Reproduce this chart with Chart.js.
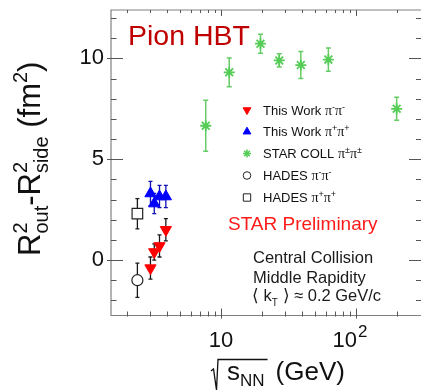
<!DOCTYPE html>
<html>
<head>
<meta charset="utf-8">
<script src="https://cdn.jsdelivr.net/npm/chart.js@4/dist/chart.umd.min.js"></script>
<style>
  html, body { margin: 0; padding: 0; background: #fff; }
  canvas { display: block; }
</style>
</head>
<body>
<canvas id="hbt" width="421" height="391"></canvas>
<script>
// Collision energies (GeV) and R_out^2 - R_side^2 (fm^2) with uncertainties
const thisWorkEnergy = [3.0, 3.2, 3.5, 3.9];
const thisWorkPiMinus = [-0.4, 0.4, 0.7, 1.5];
const thisWorkPiMinusErr = [0.55, 0.4, 0.55, 0.55];
const thisWorkPiPlus = [3.3, 2.8, 3.15, 3.15];
const thisWorkPiPlusErr = [0.6, 0.5, 0.55, 0.55];

const starEnergy = [7.7, 11.5, 19.6, 27, 39, 62.4, 200];
const starPiPi = [6.66, 9.31, 10.73, 9.9, 9.67, 9.94, 7.5];
const starPiPiErr = [1.26, 0.71, 0.47, 0.33, 0.67, 0.58, 0.57];

const hadesEnergy = [2.4];
const hadesPiMinus = [-1.0];
const hadesPiMinusErr = [0.85];
const hadesPiPlus = [2.3];
const hadesPiPlusErr = [0.75];

// Axis ticks
const xMajorTicks = [10, 100];
const xMinorTicks = [2, 3, 4, 5, 6, 7, 8, 9, 20, 30, 40, 50, 60, 70, 80, 90, 200];
const yMajorTicks = [0, 5, 10];
const yMinorTicks = [-2, -1, 1, 2, 3, 4, 6, 7, 8, 9, 11, 12];

const SANS = '"Liberation Sans", Arial, Helvetica, sans-serif';
const SERIF = '"Liberation Serif", "Times New Roman", serif';

function points(xs, ys) { return xs.map((x, i) => ({ x, y: ys[i] })); }

// Draws a run of text pieces with their own fonts and vertical offsets
function drawRich(ctx, x, y, parts) {
  for (const p of parts) {
    if (p.stack) {
      let w = 0;
      for (const s of p.stack) {
        ctx.font = s.f;
        ctx.fillText(s.t, x, y + (s.dy || 0));
        w = Math.max(w, ctx.measureText(s.t).width);
      }
      x += w;
    } else {
      ctx.font = p.f;
      ctx.fillText(p.t, x, y + (p.dy || 0));
      x += ctx.measureText(p.t).width + (p.gap || 0);
    }
  }
  return x;
}

const datasets = [
  {
    label: 'This Work π⁻π⁻', data: points(thisWorkEnergy, thisWorkPiMinus), errors: thisWorkPiMinusErr,
    pointStyle: 'triangle', pointRotation: 180, pointRadius: 6.5,
    pointBackgroundColor: '#ff0000', pointBorderColor: '#ff0000', pointBorderWidth: 1,
    errColor: '#1a1a1a', errWidth: 1.3, cap: 2, legendRadius: 4.5, legendWidth: 1, signs: ['-', '-']
  },
  {
    label: 'This Work π⁺π⁺', data: points(thisWorkEnergy, thisWorkPiPlus), errors: thisWorkPiPlusErr,
    pointStyle: 'triangle', pointRotation: 0, pointRadius: 6.5,
    pointBackgroundColor: '#0000ff', pointBorderColor: '#0000ff', pointBorderWidth: 1,
    errColor: '#1010b0', errWidth: 1.3, cap: 2, legendRadius: 4.5, legendWidth: 1, signs: ['+', '+']
  },
  {
    label: 'STAR COLL π±π±', data: points(starEnergy, starPiPi), errors: starPiPiErr,
    pointStyle: 'star', pointRotation: 0, pointRadius: 5.5,
    pointBackgroundColor: '#55cc55', pointBorderColor: '#55cc55', pointBorderWidth: 1.8,
    errColor: '#66cc66', errWidth: 1.5, cap: 2.5, legendRadius: 4, legendWidth: 1.5, signs: ['±', '±']
  },
  {
    label: 'HADES π⁻π⁻', data: points(hadesEnergy, hadesPiMinus), errors: hadesPiMinusErr,
    pointStyle: 'circle', pointRotation: 0, pointRadius: 5.5,
    pointBackgroundColor: '#ffffff', pointBorderColor: '#222222', pointBorderWidth: 1.2,
    errColor: '#1a1a1a', errWidth: 1.3, cap: 2, legendRadius: 3.8, legendWidth: 1, signs: ['-', '-']
  },
  {
    label: 'HADES π⁺π⁺', data: points(hadesEnergy, hadesPiPlus), errors: hadesPiPlusErr,
    pointStyle: 'rect', pointRotation: 0, pointRadius: 7.5,
    pointBackgroundColor: '#ffffff', pointBorderColor: '#222222', pointBorderWidth: 1.2,
    errColor: '#1a1a1a', errWidth: 1.3, cap: 2, legendRadius: 5.2, legendWidth: 1, signs: ['+', '+']
  }
];

// Frame with inward ticks on all four sides
const frame = {
  id: 'frame',
  beforeDatasetsDraw(chart) {
    const { ctx, chartArea: a, scales: { x, y } } = chart;
    ctx.save();
    ctx.strokeStyle = '#808080';
    ctx.lineWidth = 1.2;
    ctx.beginPath();
    ctx.moveTo(a.right + 2, a.top); ctx.lineTo(a.left, a.top);
    ctx.lineTo(a.left, a.bottom); ctx.lineTo(a.right + 2, a.bottom);
    ctx.stroke();

    ctx.strokeStyle = '#555';
    ctx.lineWidth = 1;
    ctx.beginPath();
    const vx = (v, y0, y1) => { const px = Math.round(x.getPixelForValue(v)) + 0.5; ctx.moveTo(px, y0); ctx.lineTo(px, y1); };
    const hy = (v, x0, x1) => { const py = Math.round(y.getPixelForValue(v)) + 0.5; ctx.moveTo(x0, py); ctx.lineTo(x1, py); };
    xMinorTicks.forEach(v => { vx(v, a.bottom + 1, a.bottom - 4); vx(v, a.top, a.top + 3); });
    xMajorTicks.forEach(v => { vx(v, a.bottom + 3, a.bottom - 7); vx(v, a.top, a.top + 6); });
    yMinorTicks.forEach(v => { hy(v, a.left, a.left + 5.5); hy(v, a.right, a.right - 5); });
    yMajorTicks.forEach(v => { hy(v, a.left - 4, a.left + 12); hy(v, a.right, a.right - 12); });
    ctx.stroke();
    ctx.restore();
  }
};

// Vertical error bars with small caps
const errorBars = {
  id: 'errorBars',
  beforeDatasetsDraw(chart) {
    const { ctx, scales: { x, y } } = chart;
    chart.data.datasets.forEach(ds => {
      ctx.save();
      ctx.strokeStyle = ds.errColor;
      ctx.lineWidth = ds.errWidth;
      ctx.beginPath();
      ds.data.forEach((p, i) => {
        const e = ds.errors[i];
        const px = x.getPixelForValue(p.x);
        const yHi = y.getPixelForValue(p.y + e);
        const yLo = y.getPixelForValue(p.y - e);
        ctx.moveTo(px, yHi); ctx.lineTo(px, yLo);
        ctx.moveTo(px - ds.cap, yHi); ctx.lineTo(px + ds.cap, yHi);
        ctx.moveTo(px - ds.cap, yLo); ctx.lineTo(px + ds.cap, yLo);
      });
      ctx.stroke();
      ctx.restore();
    });
  }
};

// Axis titles, x tick labels, legend and notes
const decorations = {
  id: 'decorations',
  afterDraw(chart) {
    const { ctx, scales: { x } } = chart;
    ctx.save();
    ctx.fillStyle = '#111';
    ctx.textBaseline = 'alphabetic';

    // x tick labels: 10 and 10^2
    ctx.font = `22px ${SANS}`;
    ctx.textAlign = 'center';
    ctx.fillText('10', x.getPixelForValue(xMajorTicks[0]), 347);
    const p100 = x.getPixelForValue(xMajorTicks[1]);
    ctx.textAlign = 'right';
    ctx.fillText('10', p100 + 1, 347);
    ctx.textAlign = 'left';
    ctx.font = `17px ${SANS}`;
    ctx.fillText('2', p100 + 2, 337);

    // x title: sqrt(s_NN) (GeV)
    const x0 = 227, base = 380;
    const end = drawRich(ctx, x0, base, [
      { t: 's', f: `26px ${SANS}` },
      { t: 'NN', f: `17px ${SANS}`, dy: 6 }
    ]);
    ctx.strokeStyle = '#111';
    ctx.lineWidth = 1.3;
    ctx.beginPath();
    ctx.moveTo(x0 - 16, base - 9);
    ctx.lineTo(x0 - 13.5, base - 11);
    ctx.lineTo(x0 - 10.5, base + 10);
    ctx.lineTo(x0 - 9, base - 20.5);
    ctx.lineTo(end + 3, base - 20.5);
    ctx.stroke();
    drawRich(ctx, end + 11, base, [{ t: '(GeV)', f: `26px ${SANS}` }]);

    // y title: R_out^2 - R_side^2 (fm^2)
    ctx.save();
    ctx.translate(40, 256);
    ctx.rotate(-Math.PI / 2);
    const big = `31px ${SANS}`, small = `20px ${SANS}`;
    drawRich(ctx, 0, 0, [
      { t: 'R', f: big },
      { stack: [{ t: '2', f: small, dy: -13 }, { t: 'out', f: small, dy: 8 }] },
      { t: '-', f: big },
      { t: 'R', f: big },
      { stack: [{ t: '2', f: small, dy: -13 }, { t: 'side', f: small, dy: 8 }] },
      { t: ' (fm', f: big },
      { t: '2', f: small, dy: -13 },
      { t: ')', f: big }
    ]);
    ctx.restore();

    // Title
    ctx.fillStyle = '#c00000';
    ctx.font = `28.5px ${SANS}`;
    ctx.fillText('Pion HBT', 128, 45);

    // Legend
    const rows = [110, 131.7, 153.5, 175.5, 197.5];
    const names = ['This Work ', 'This Work ', 'STAR COLL ', 'HADES ', 'HADES '];
    chart.data.datasets.forEach((ds, i) => {
      const cy = rows[i];
      ctx.save();
      ctx.fillStyle = ds.pointBackgroundColor;
      ctx.strokeStyle = ds.pointBorderColor;
      ctx.lineWidth = ds.legendWidth;
      Chart.helpers.drawPoint(ctx, {
        pointStyle: ds.pointStyle, rotation: ds.pointRotation,
        radius: ds.legendRadius, borderWidth: ds.legendWidth
      }, 247, cy);
      ctx.restore();
      ctx.fillStyle = '#111';
      drawRich(ctx, 263, cy + 4.7, [
        { t: names[i], f: `13px ${SANS}` },
        { t: 'π', f: `14px ${SERIF}` },
        { t: ds.signs[0], f: `9px ${SANS}`, dy: -5 },
        { t: 'π', f: `14px ${SERIF}` },
        { t: ds.signs[1], f: `9px ${SANS}`, dy: -5 }
      ]);
    });

    // Notes
    ctx.fillStyle = '#ff1a1a';
    ctx.font = `19px ${SANS}`;
    ctx.fillText('STAR Preliminary', 228, 230);

    ctx.fillStyle = '#1a1a1a';
    ctx.font = `16.5px ${SANS}`;
    ctx.fillText('Central Collision', 253, 262.5);
    ctx.fillText('Middle Rapidity', 253, 282.5);
    drawRich(ctx, 252, 301, [
      { t: '⟨ k', f: `16.5px ${SANS}` },
      { t: 'T', f: `10px ${SANS}`, dy: 5 },
      { t: ' ⟩ ≈ 0.2 GeV/c', f: `16.5px ${SANS}` }
    ]);
    ctx.restore();
  }
};

// Fixed axis box sizes so the plot frame sits where it should
function fixBox(width, height) {
  return s => {
    if (width !== null) s.width = width;
    if (height !== null) s.height = height;
    s.paddingTop = 0; s.paddingBottom = 0; s.paddingLeft = 0; s.paddingRight = 0;
  };
}

new Chart(document.getElementById('hbt'), {
  type: 'scatter',
  data: { datasets },
  options: {
    responsive: false,
    animation: false,
    devicePixelRatio: 1,
    layout: { autoPadding: false, padding: { top: 10, right: 0, left: 0, bottom: 0 } },
    plugins: { legend: { display: false }, tooltip: { enabled: false } },
    scales: {
      x: {
        type: 'logarithmic',
        min: 1.53, max: 303,
        grid: { display: false },
        border: { display: false },
        ticks: { display: false },
        afterBuildTicks: s => { s.ticks = xMajorTicks.map(v => ({ value: v })); },
        afterFit: fixBox(null, 75.5)
      },
      y: {
        type: 'linear',
        min: -2.75, max: 12.4,
        grid: { display: false, drawTicks: false },
        border: { display: false },
        ticks: {
          color: '#111',
          padding: 7,
          font: { family: SANS, size: 22 },
          callback: v => String(v)
        },
        afterBuildTicks: s => { s.ticks = yMajorTicks.map(v => ({ value: v })); },
        afterFit: fixBox(111, null)
      }
    }
  },
  plugins: [frame, errorBars, decorations]
});
</script>
</body>
</html>
